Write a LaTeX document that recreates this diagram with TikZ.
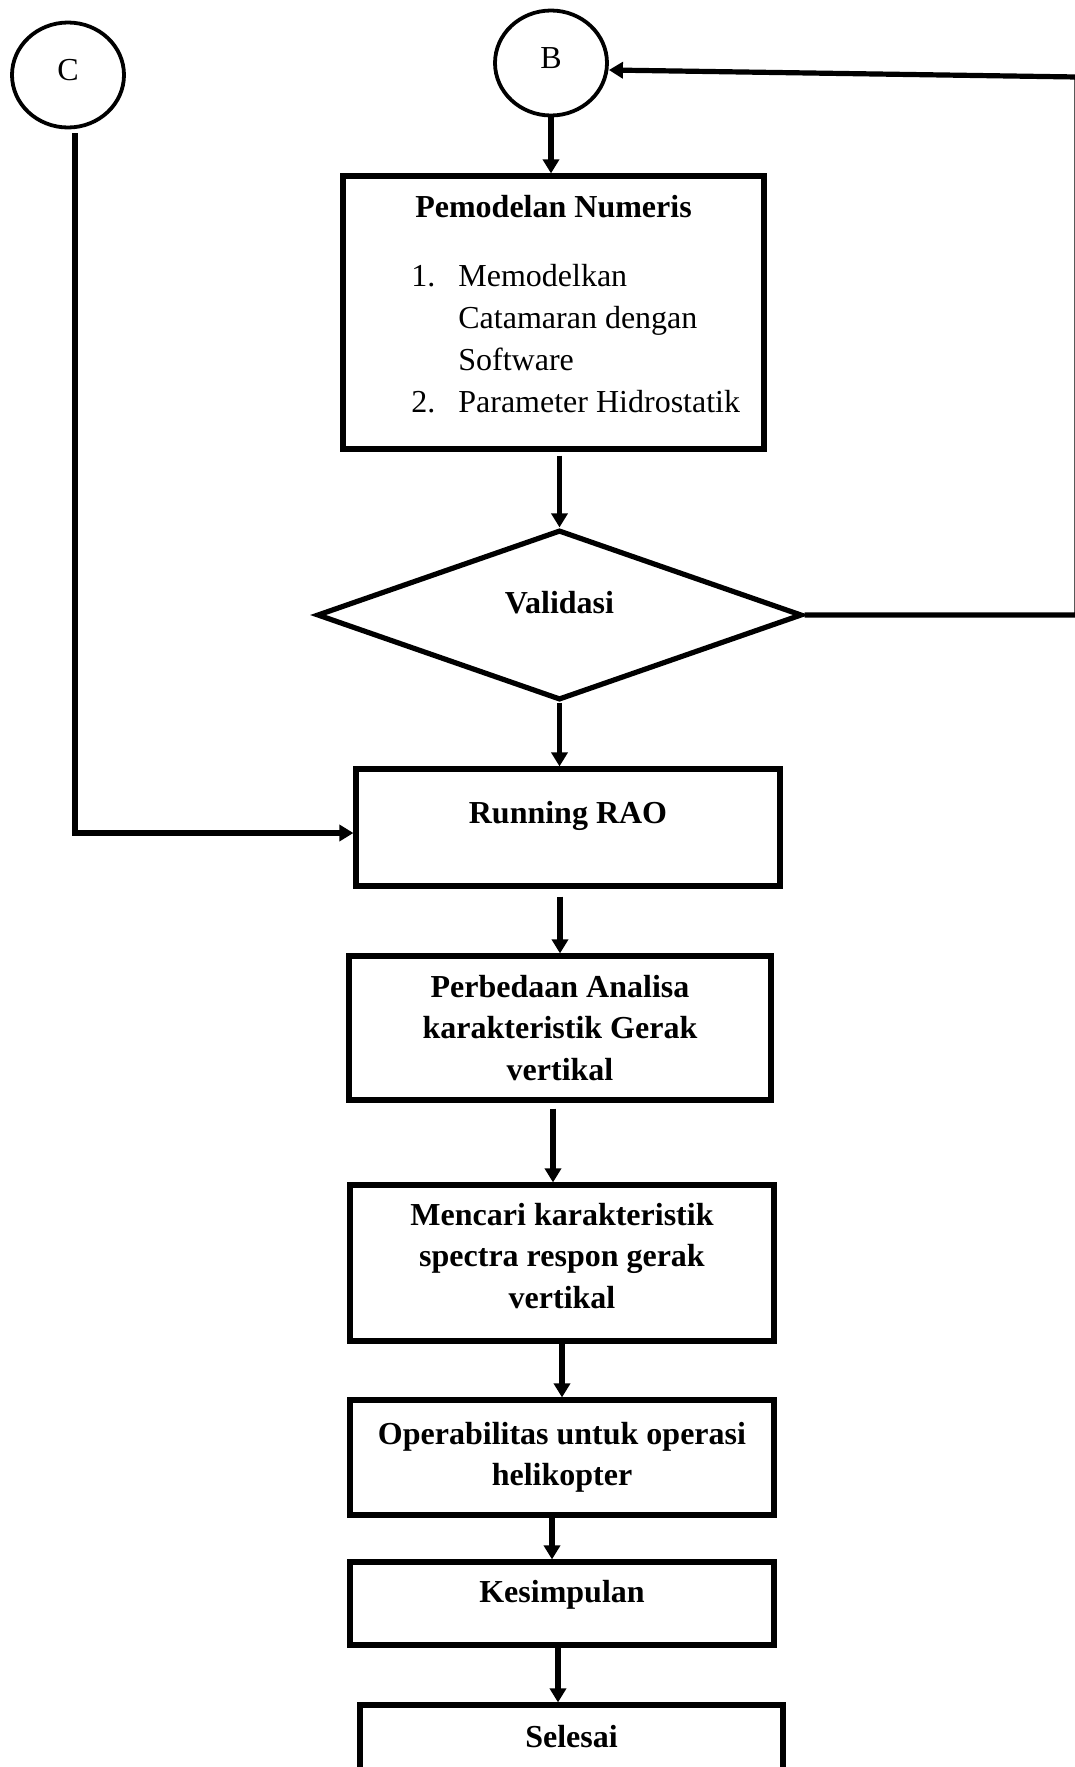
\documentclass[tikz,border=0pt]{standalone}
\usepackage{fontspec}
\setmainfont{Liberation Serif}
\usetikzlibrary{arrows.meta,shapes.geometric}

\begin{document}
\begin{tikzpicture}[x=0.5pt,y=-0.5pt,
    font=\fontsize{16}{21}\selectfont,
    conn/.style={draw, ellipse, line width=1.9pt, minimum width=56pt, minimum height=52.5pt, inner sep=0pt, text height=15pt, text depth=10pt},
    box/.style={draw, rectangle, line width=2.6pt, minimum width=212pt, inner sep=0pt, align=center, font=\fontsize{16}{20.75}\selectfont\bfseries},
    arr/.style={line width=2.6pt, -{Triangle[length=7pt,width=8pt]}}]
  \fill[white] (0,0) rectangle (1075,1767);
  \useasboundingbox (0,0) rectangle (1075,1767);

  \node[conn] (C) at (68,75) {C};
  \node[conn] (B) at (551,63) {B};
  \node[box, minimum width=210.5pt, text height=20.5pt, text depth=116pt] (pm) at (553.5,312.5) {Pemodelan Numeris};
  \node[anchor=base west, inner sep=0pt] (pmlist) at (411,286) {\begin{tabular}[t]{@{}l@{}l@{}}
      \makebox[23.5pt][l]{1.} & Memodelkan\\
       & Catamaran dengan\\
       & Software\\
      2. & Parameter Hidrostatik
    \end{tabular}};
  \node[draw, diamond, line width=2.6pt, minimum width=242.5pt, minimum height=85pt, aspect=2.85, inner sep=0pt,
        font=\fontsize{16}{21}\selectfont\bfseries, text height=10pt, text depth=12pt] (val) at (559.5,615) {Validasi};
  \node[box, text height=27pt, text depth=31.5pt] (rao) at (568,827.5) {Running RAO};
  \node[box, minimum width=211pt, minimum height=72pt] (pb) at (560,1028) {Perbedaan Analisa\\karakteristik Gerak\\vertikal};
  \node[box, minimum height=78pt, text depth=7.5pt] (mc) at (562,1263) {Mencari karakteristik\\spectra respon gerak\\vertikal};
  \node[box, minimum height=57.5pt] (op) at (562,1457.5) {Operabilitas untuk operasi\\helikopter};
  \node[box, text height=20pt, text depth=21.5pt] (kes) at (562,1603.5) {Kesimpulan};
  \node[box, minimum width=211.5pt, text height=21pt, text depth=20.5pt] (sel) at (571.5,1746.5) {Selesai};

  % loop back from Validasi to B, runs along the page edge
  \coordinate (rb) at (1077,615);
  \coordinate (rt) at (1077,77);

  \draw[arr] (B.south) -- (B.south |- pm.north);
  \draw[arr, shorten <=2pt] (pm.south -| val.north) -- (val.north);
  \draw[arr] (val.south) -- (val.south |- rao.north);
  \draw[arr, shorten <=4pt] (rao.south -| pb.north) -- (pb.north);
  \draw[arr, shorten <=3pt] ([xshift=-3.5pt]pb.south) -- ([xshift=-3.5pt]pb.south |- mc.north);
  \draw[arr] (mc.south) -- (mc.south |- op.north);
  \draw[arr] ([xshift=-5pt]op.south) -- ([xshift=-5pt]op.south |- kes.north);
  \draw[arr] ([xshift=-2pt]kes.south) -- ([xshift=-2pt]kes.south |- sel.north);
  \draw[arr] (val.east) -- (rb) -- (rt) -- ([yshift=-3.5pt]B.east);
  \draw[arr, shorten <=2pt] ([xshift=3.5pt]C.south) |- ([yshift=-2.75pt]rao.west);
\end{tikzpicture}
\end{document}
